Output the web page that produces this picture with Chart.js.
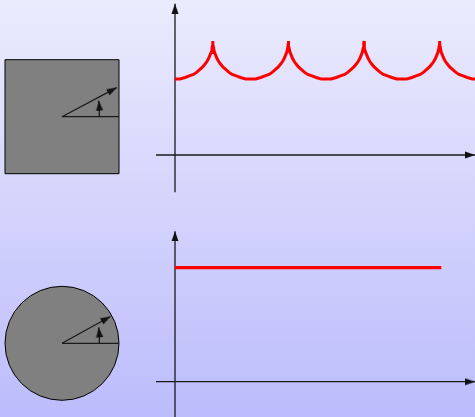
<!DOCTYPE html>
<html>
<head>
<meta charset="utf-8">
<script src="https://cdn.jsdelivr.net/npm/chart.js@4"></script>
<style>
  html, body { margin: 0; padding: 0; }
  body {
    width: 475px; height: 417px; overflow: hidden; position: relative;
    background: linear-gradient(to bottom, #ebebfd 0%, #bcbcfc 100%);
  }
  canvas { position: absolute; top: 0; }
  #shapes { left: 0; }
  #plots { left: 150px; }
</style>
</head>
<body>
<canvas id="shapes" width="150" height="417"></canvas>
<canvas id="plots" width="325" height="417"></canvas>
<script>
// square: distance centre -> edge, one half arch (minimum -> cusp), repeated every 90 deg
const archCentres = [0, 90, 180, 270, 360];
const halfArchAngle = [0, 6, 12, 17, 22, 26, 30, 33, 36, 38, 40, 41.5, 43, 44, 44.5, 44.9, 45];
const halfArchRadius = [1.00, 1.00, 1.02, 1.04, 1.06, 1.09, 1.13, 1.16, 1.20, 1.23, 1.27, 1.31, 1.35, 1.40, 1.43, 1.47, 1.50];

// circle: constant distance
const circleAngle = [0, 317];
const circleRadius = [1.5, 1.5];

// left pictures, unit = half side of square / radius of circle
const squareHalfSide = 1;
const circleR = 1;
const baseRay = [[0, 0], [1, 0]];
const squareRay = [[0, 0], [0.96, 0.51]];
const circleRay = [[0, 0], [0.85, 0.47]];
const angleMark = [[0.655, 0], [0.655, 0.17], [0.645, 0.28]];

// axes of the two plots
const axisAngle = [-22.6, 357.1];
const axisTopR = [-0.49, 1.99];
const axisBotR = [-0.6, 1.98];

const squareCurve = [];
archCentres.forEach(c => {
  for (let i = halfArchAngle.length - 1; i > 0; i--) {
    squareCurve.push({ x: c - halfArchAngle[i], y: halfArchRadius[i] });
  }
  for (let i = 0; i < halfArchAngle.length; i++) {
    squareCurve.push({ x: c + halfArchAngle[i], y: halfArchRadius[i] });
  }
});
const squareData = squareCurve.filter(p => p.x >= 0);
const circleData = circleAngle.map((a, i) => ({ x: a, y: circleRadius[i] }));

// arrow head, tip sits on the centre of the image
const head = document.createElement('canvas');
head.width = 20;
head.height = 8;
const hc = head.getContext('2d');
hc.fillStyle = '#111';
hc.beginPath();
hc.moveTo(0, 0.5);
hc.lineTo(10, 4);
hc.lineTo(0, 7.5);
hc.closePath();
hc.fill();

function arrow(pts, yAxisID, noHead) {
  const n = pts.length;
  const [x1, y1] = pts[n - 2];
  const [x2, y2] = pts[n - 1];
  const rot = -Math.atan2(y2 - y1, x2 - x1) * 180 / Math.PI;
  return {
    data: pts.map(p => ({ x: p[0], y: p[1] })),
    yAxisID,
    showLine: true,
    borderColor: '#1a1a1a',
    borderWidth: 1.3,
    tension: 0,
    pointRadius: ctx => (!noHead && ctx.dataIndex === n - 1 ? 5 : 0),
    pointStyle: head,
    pointRotation: rot,
    order: 1
  };
}

const unitPx = ctx => ctx.chart.scales.x.getPixelForValue(1) - ctx.chart.scales.x.getPixelForValue(0);

const common = {
  responsive: false,
  animation: false,
  devicePixelRatio: 1,
  events: [],
  layout: { padding: 0, autoPadding: false },
  plugins: { legend: { display: false }, tooltip: { enabled: false } }
};

const L = 57;   // px per unit, left pictures
new Chart(document.getElementById('shapes'), {
  type: 'scatter',
  data: {
    datasets: [
      arrow(baseRay, 'yTop', true),
      arrow(squareRay, 'yTop'),
      arrow(angleMark, 'yTop'),
      arrow(baseRay, 'yBot', true),
      arrow(circleRay, 'yBot'),
      arrow(angleMark, 'yBot'),
      {
        data: [{ x: 0, y: 0 }],
        yAxisID: 'yTop',
        pointStyle: 'rect',
        pointRadius: ctx => unitPx(ctx) * squareHalfSide * Math.SQRT2,
        backgroundColor: '#808080',
        borderColor: '#000',
        borderWidth: 1,
        order: 3
      },
      {
        data: [{ x: 0, y: 0 }],
        yAxisID: 'yBot',
        pointStyle: 'circle',
        pointRadius: ctx => unitPx(ctx) * circleR,
        backgroundColor: '#808080',
        borderColor: '#000',
        borderWidth: 1,
        order: 3
      }
    ]
  },
  options: {
    ...common,
    scales: {
      x: { type: 'linear', display: false, min: -62 / L, max: 88 / L },
      yTop: { type: 'linear', display: false, min: -(417 - 116.7) / L, max: 116.7 / L },
      yBot: { type: 'linear', display: false, min: -(417 - 343.3) / L, max: 343.3 / L }
    }
  }
});

const D = 0.84;  // px per degree
const R = 76;    // px per unit of distance
new Chart(document.getElementById('plots'), {
  type: 'scatter',
  data: {
    datasets: [
      {
        data: squareData,
        yAxisID: 'yTop',
        showLine: true,
        borderColor: '#ff0000',
        borderWidth: 3,
        tension: 0,
        pointRadius: 0,
        order: 0
      },
      {
        data: circleData,
        yAxisID: 'yBot',
        showLine: true,
        borderColor: '#ff0000',
        borderWidth: 3.3,
        tension: 0,
        pointRadius: 0,
        order: 0
      },
      arrow([[axisAngle[0], 0], [axisAngle[1], 0]], 'yTop'),
      arrow([[0, axisTopR[0]], [0, axisTopR[1]]], 'yTop'),
      arrow([[axisAngle[0], 0], [axisAngle[1], 0]], 'yBot'),
      arrow([[0, axisBotR[0]], [0, axisBotR[1]]], 'yBot')
    ]
  },
  options: {
    ...common,
    scales: {
      x: { type: 'linear', display: false, min: -25 / D, max: 300 / D },
      yTop: { type: 'linear', display: false, min: -(417 - 155) / R, max: 155 / R },
      yBot: { type: 'linear', display: false, min: -(417 - 381.7) / R, max: 381.7 / R }
    }
  }
});
</script>
</body>
</html>
